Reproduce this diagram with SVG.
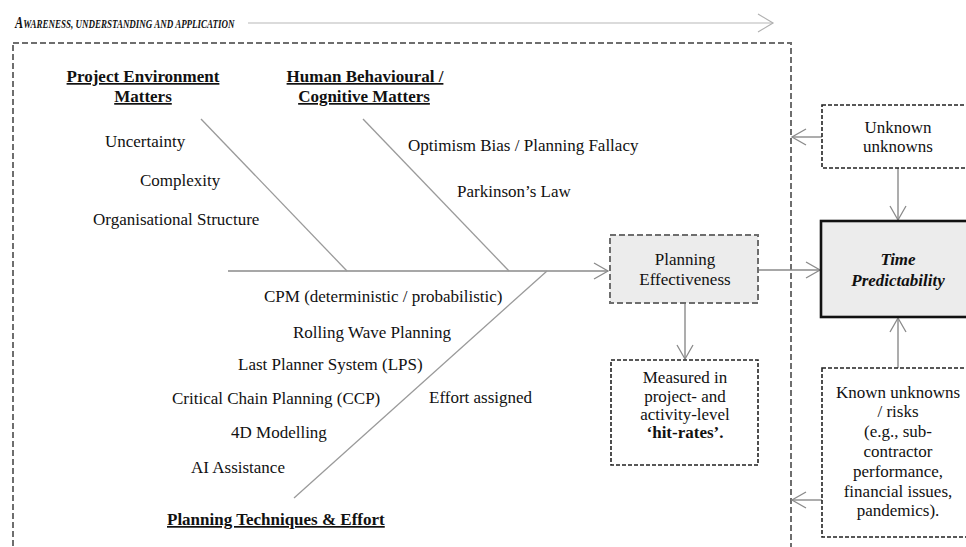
<svg xmlns="http://www.w3.org/2000/svg" width="966" height="547" viewBox="0 0 966 547">
<style>
text{font-family:"Liberation Serif","Times New Roman",serif;font-size:17px;fill:#111}
.c{text-anchor:middle}
.h{font-weight:bold;text-decoration:underline}
.bi{font-weight:bold;font-style:italic}
.conn{stroke:#8a8a8a;stroke-width:1.4;fill:none}
.bone{stroke:#9a9a9a;stroke-width:1.3;fill:none}
.box{fill:#fff;stroke:#222;stroke-width:1.6;stroke-dasharray:4 2}
</style>
<defs>
<marker id="ah" markerUnits="userSpaceOnUse" markerWidth="18" markerHeight="20" refX="15" refY="9" orient="auto">
<path d="M1,1 L15,9 L1,17" fill="none" stroke="#8a8a8a" stroke-width="1.3"/>
</marker>
<marker id="ahl" markerUnits="userSpaceOnUse" markerWidth="18" markerHeight="22" refX="16" refY="10" orient="auto">
<path d="M1,1 L16,10 L1,19" fill="none" stroke="#b0b0b0" stroke-width="1.2"/>
</marker>
</defs>
<rect width="966" height="547" fill="#fff"/>

<g id="title">
<text transform="translate(15,28) scale(0.72,1)" class="bi"><tspan font-size="17">A</tspan><tspan font-size="12.5">WARENESS, UNDERSTANDING AND APPLICATION</tspan></text>
</g>

<g id="frame">
<rect x="13" y="43" width="778" height="540" fill="none" stroke="#6e6e6e" stroke-width="2" stroke-dasharray="6 3"/>
</g>

<g id="connectors">
<line x1="248" y1="23" x2="773" y2="23" stroke="#b8b8b8" stroke-width="1.2" marker-end="url(#ahl)"/>
<line x1="228" y1="271" x2="608" y2="271" class="conn" marker-end="url(#ah)"/>
<line x1="201" y1="119" x2="347" y2="271" class="bone"/>
<line x1="363" y1="119" x2="509" y2="271" class="bone"/>
<line x1="547" y1="271" x2="294" y2="498" class="bone"/>
<line x1="758" y1="270" x2="820" y2="270" class="conn" marker-end="url(#ah)"/>
<line x1="685" y1="303" x2="685" y2="359" class="conn" marker-end="url(#ah)"/>
<line x1="822" y1="137" x2="792" y2="137" class="conn" marker-end="url(#ah)"/>
<line x1="898" y1="168" x2="898" y2="220" class="conn" marker-end="url(#ah)"/>
<line x1="898" y1="368" x2="898" y2="318" class="conn" marker-end="url(#ah)"/>
<line x1="822" y1="500" x2="792" y2="500" class="conn" marker-end="url(#ah)"/>
</g>

<g id="project-environment">
<text x="143" y="82" class="h c">Project Environment</text>
<text x="143" y="102" class="h c">Matters</text>
<text x="105" y="147">Uncertainty</text>
<text x="140" y="186">Complexity</text>
<text x="93" y="225">Organisational Structure</text>
</g>

<g id="human-behavioural">
<text x="365" y="82" class="h c">Human Behavioural /</text>
<text x="364" y="102" class="h c">Cognitive Matters</text>
<text x="408" y="151">Optimism Bias / Planning Fallacy</text>
<text x="457" y="197">Parkinson’s Law</text>
</g>

<g id="planning-techniques">
<text x="264" y="302">CPM (deterministic / probabilistic)</text>
<text x="293" y="338">Rolling Wave Planning</text>
<text x="238" y="370">Last Planner System (LPS)</text>
<text x="172" y="404">Critical Chain Planning (CCP)</text>
<text x="429" y="403">Effort assigned</text>
<text x="231" y="438">4D Modelling</text>
<text x="191" y="473">AI Assistance</text>
<text x="167" y="525" class="h">Planning Techniques &amp; Effort</text>
</g>

<g id="planning-effectiveness">
<rect x="610" y="235" width="148" height="68" fill="#ececec" stroke="#6e6e6e" stroke-width="2" stroke-dasharray="6 3"/>
<text x="685" y="265" class="c">Planning</text>
<text x="685" y="285" class="c">Effectiveness</text>
</g>

<g id="measured">
<rect x="611" y="360" width="147" height="105" class="box"/>
<text x="685" y="383" class="c">Measured in</text>
<text x="685" y="402" class="c">project- and</text>
<text x="685" y="420" class="c">activity-level</text>
<text x="685" y="438" class="c" font-weight="bold">‘hit-rates’.</text>
</g>

<g id="unknown-unknowns">
<rect x="822" y="105" width="160" height="63" class="box"/>
<text x="898" y="133" class="c">Unknown</text>
<text x="898" y="152" class="c">unknowns</text>
</g>

<g id="time-predictability">
<rect x="821" y="221" width="160" height="96" fill="#ececec" stroke="#111" stroke-width="2.6"/>
<text x="898" y="265" class="c bi">Time</text>
<text x="898" y="286" class="c bi">Predictability</text>
</g>

<g id="known-unknowns">
<rect x="822" y="368" width="160" height="169" class="box"/>
<text x="898" y="398" class="c">Known unknowns</text>
<text x="898" y="417" class="c">/ risks</text>
<text x="898" y="437" class="c">(e.g., sub-</text>
<text x="898" y="457" class="c">contractor</text>
<text x="898" y="477" class="c">performance,</text>
<text x="898" y="497" class="c">financial issues,</text>
<text x="898" y="516" class="c">pandemics).</text>
</g>
</svg>
